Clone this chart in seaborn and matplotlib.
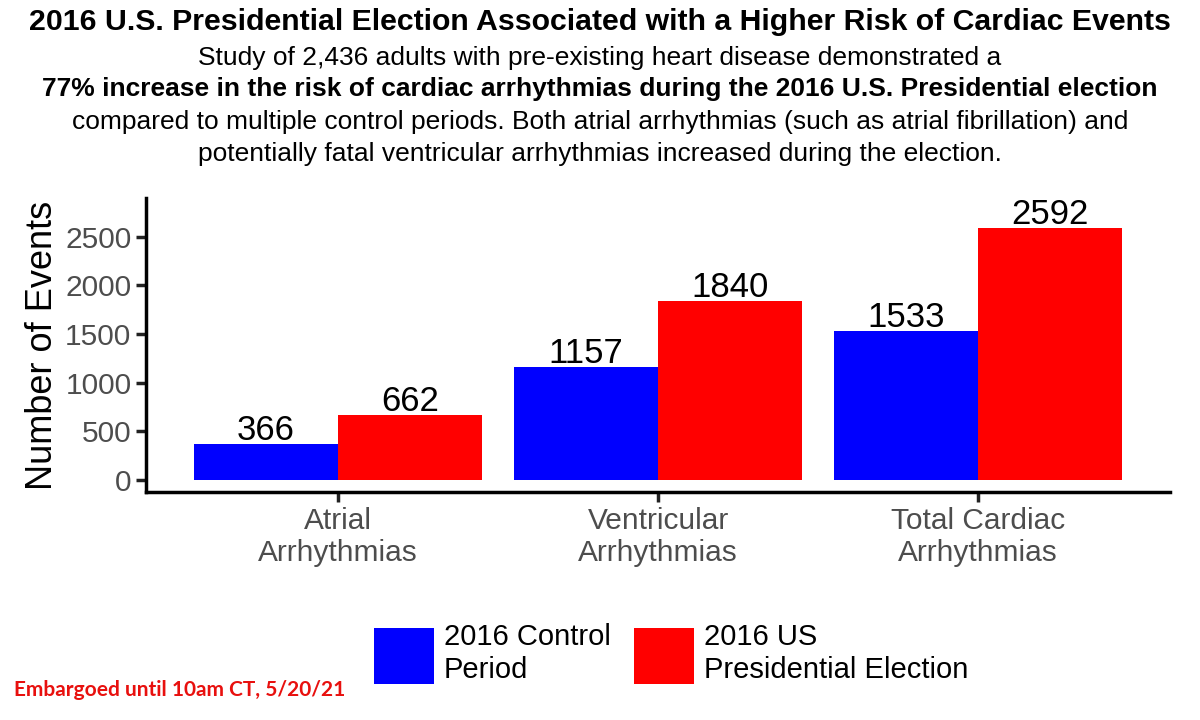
import pandas as pd
import matplotlib.pyplot as plt
import seaborn as sns

# values
categories = ['Atrial\nArrhythmias', 'Ventricular\nArrhythmias', 'Total Cardiac\nArrhythmias']
periods = ['2016 Control\nPeriod', '2016 US\nPresidential Election']
control_events = [366, 1157, 1533]
election_events = [662, 1840, 2592]
y_ticks = [0, 500, 1000, 1500, 2000, 2500]

df = pd.DataFrame({
    'Arrhythmia': categories * 2,
    'Period': [periods[0]] * 3 + [periods[1]] * 3,
    'Events': control_events + election_events,
})

sns.set_theme(style='ticks')
plt.rcParams['font.family'] = ['Liberation Sans', 'DejaVu Sans']
plt.rcParams['text.color'] = 'black'

fig = plt.figure(figsize=(12, 7.2), dpi=100)
ax = fig.add_axes([0.1217, 0.3167, 0.8533, 0.4083])

palette = {periods[0]: '#0000FF', periods[1]: '#FF0000'}
sns.barplot(data=df, x='Arrhythmia', y='Events', hue='Period', palette=palette,
            width=0.9, saturation=1, ax=ax, edgecolor='none')

for cont in ax.containers:
    ax.bar_label(cont, fmt='%d', fontsize=25, color='black', padding=-2)

ax.set_xlim(-0.6, 2.6)
ax.set_ylim(-125, 2900)
ax.set_yticks(y_ticks)
ax.set_xlabel('')
ax.set_ylabel('Number of Events', fontsize=26, color='black', labelpad=4)
ax.tick_params(axis='both', labelsize=21.5, labelcolor='#4D4D4D', color='#222222',
               width=2.5, length=7)
for side in ['top', 'right']:
    ax.spines[side].set_visible(False)
for side in ['left', 'bottom']:
    ax.spines[side].set_linewidth(2.5)
    ax.spines[side].set_color('black')

# legend below the plot
handles, labels = ax.get_legend_handles_labels()
leg = ax.legend(handles, labels, loc='center left', bbox_to_anchor=(0.197, -0.55),
                ncol=2, frameon=False, fontsize=21, handlelength=2.05, handleheight=2.6,
                columnspacing=0.8, handletextpad=0.35)
for t in leg.get_texts():
    t.set_color('black')

# titles
fig.text(0.5, 0.970, '2016 U.S. Presidential Election Associated with a Higher Risk of Cardiac Events',
         ha='center', va='center', fontsize=21.8, fontweight='bold')
fig.text(0.5, 0.920, 'Study of 2,436 adults with pre-existing heart disease demonstrated a',
         ha='center', va='center', fontsize=19)
fig.text(0.5, 0.876, '77% increase in the risk of cardiac arrhythmias during the 2016 U.S. Presidential election',
         ha='center', va='center', fontsize=19, fontweight='bold')
fig.text(0.5, 0.830, 'compared to multiple control periods. Both atrial arrhythmias (such as atrial fibrillation) and',
         ha='center', va='center', fontsize=19)
fig.text(0.5, 0.786, 'potentially fatal ventricular arrhythmias increased during the election.',
         ha='center', va='center', fontsize=19)

fig.text(0.012, 0.042, 'Embargoed until 10am CT, 5/20/21', ha='left', va='center',
         fontsize=15, fontweight='bold', color='#E8100E', family=['Lato', 'DejaVu Sans'])

fig.savefig('out.png', dpi=100)
